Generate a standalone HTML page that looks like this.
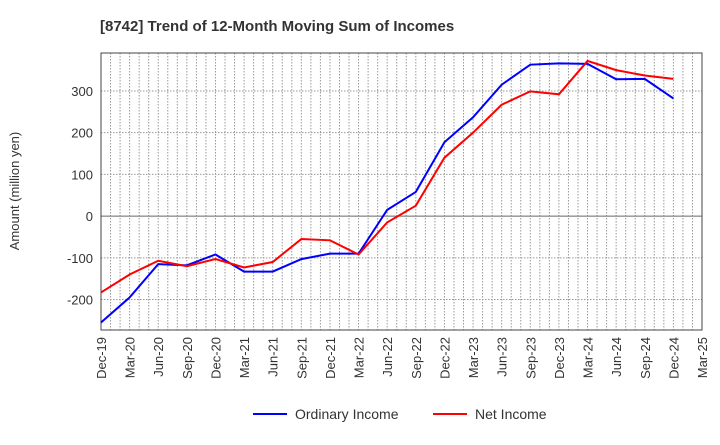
<!DOCTYPE html>
<html><head><meta charset="utf-8"><style>
body{margin:0;background:#fff;width:720px;height:440px;overflow:hidden;font-family:"Liberation Sans",sans-serif}
</style></head><body>
<svg id="c" width="720" height="440" xmlns="http://www.w3.org/2000/svg">
<text x="100" y="31" font-size="15" font-weight="bold" fill="#333">[8742]  Trend of 12-Month Moving Sum of Incomes</text>
<text transform="translate(19,191) rotate(-90)" text-anchor="middle" font-size="13" fill="#333">Amount (million yen)</text>
<g id="grid"></g><g id="ax"></g><g id="series"></g>
<g>
<line x1="253" y1="414" x2="287" y2="414" stroke="#0000ff" stroke-width="2"/>
<text x="295" y="419" font-size="14" fill="#333">Ordinary Income</text>
<line x1="433" y1="414" x2="467" y2="414" stroke="#ff0000" stroke-width="2"/>
<text x="475" y="419" font-size="14" fill="#333">Net Income</text>
</g>
</svg>
<script>
const categories=["Dec-19","Mar-20","Jun-20","Sep-20","Dec-20","Mar-21","Jun-21","Sep-21","Dec-21","Mar-22","Jun-22","Sep-22","Dec-22","Mar-23","Jun-23","Sep-23","Dec-23","Mar-24","Jun-24","Sep-24","Dec-24","Mar-25"];
const ordinaryIncome=[-255,-195,-115,-118,-92,-133,-133,-103,-90,-90,15,58,177,237,315,363,366,365,328,329,282];
const netIncome=[-183,-140,-107,-120,-103,-123,-110,-55,-58,-92,-15,25,140,200,267,299,292,372,350,337,329];
const yTicks=[-200,-100,0,100,200,300];
const L=101,R=702,T=53,B=330,yMin=-273,yMax=391;
const NS="http://www.w3.org/2000/svg";
const xs=i=>L+i*(R-L)/(categories.length-1);
const ys=v=>B-(v-yMin)/(yMax-yMin)*(B-T);
function mk(tag,attrs,parent){const e=document.createElementNS(NS,tag);for(const k in attrs)e.setAttribute(k,attrs[k]);document.getElementById(parent).appendChild(e);return e;}
const n=(categories.length-1)*3;
for(let j=1;j<n;j++){const x=L+j*(R-L)/n;const g=mk('line',{x1:x,x2:x,y1:T,y2:B,stroke:'#999','stroke-dasharray':'1.5,1.5','stroke-width':1},'grid');

}
yTicks.forEach(v=>{const y=ys(v);const g=mk('line',{x1:L,x2:R,y1:y,y2:y,stroke:v===0?'#666':'#999','stroke-dasharray':v===0?'none':'1.5,1.5','stroke-width':1},'grid');


const t=mk('text',{x:L-8,y:y+5,'text-anchor':'end','font-size':13,fill:'#333'},'ax');t.textContent=v;

});
const fr=mk('rect',{x:L,y:T,width:R-L,height:B-T,fill:'none',stroke:'#444','stroke-width':1},'ax');


categories.forEach((c,i)=>{const x=xs(i);const t=mk('text',{transform:`translate(${x+5},${B+7}) rotate(-90)`,'text-anchor':'end','font-size':13,fill:'#333'},'ax');t.textContent=c;

});
function line(data,color,name){const p=mk('polyline',{points:data.map((v,i)=>xs(i)+','+ys(v)).join(' '),fill:'none',stroke:color,'stroke-width':2},'series');

}
line(ordinaryIncome,'#0000ff','ordinary-income-line');
line(netIncome,'#ff0000','net-income-line');
</script>
</body></html>
